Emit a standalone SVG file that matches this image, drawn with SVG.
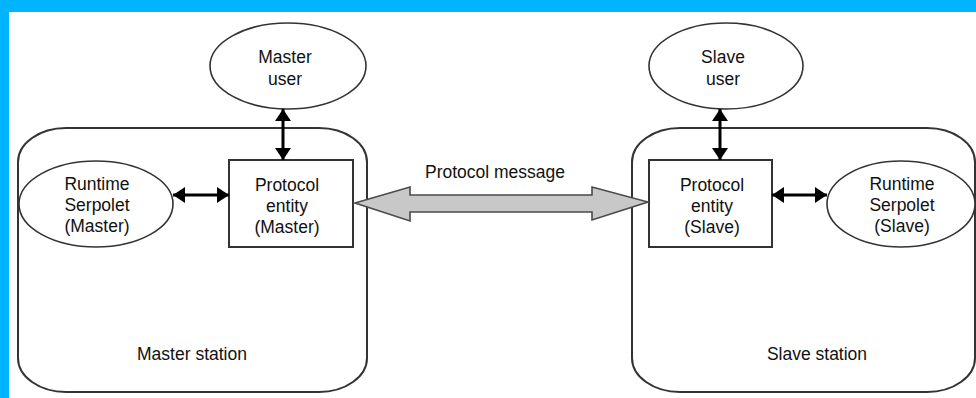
<svg xmlns="http://www.w3.org/2000/svg" width="976" height="398" viewBox="0 0 976 398">
<defs>
<style>
.bg{fill:#00b4ff}
.station{fill:none;stroke:#333;stroke-width:2}
.ell{fill:#fff;stroke:#333;stroke-width:1.6}
.box{fill:#fff;stroke:#333;stroke-width:2}
.t{font-family:"Liberation Sans",Arial,sans-serif;font-size:17.5px;fill:#111;text-anchor:middle}
.link{stroke:#000;stroke-width:3;fill:none;marker-start:url(#ah);marker-end:url(#ah)}
.big{fill:#c8c8c8;stroke:#4a4a4a;stroke-width:1.6;stroke-linejoin:miter}
</style>
<marker id="ah" viewBox="0 0 12 16" refX="12" refY="8" markerWidth="12" markerHeight="16" markerUnits="userSpaceOnUse" orient="auto-start-reverse">
<path d="M0,0 L12,8 L0,16 z" fill="#000"/>
</marker>
</defs>
<rect x="0" y="0" width="976" height="398" fill="#fff"/>
<rect class="bg" x="0" y="0" width="976" height="12"/>
<rect class="bg" x="0" y="0" width="9" height="398"/>

<g id="master-station">
<rect class="station" x="18" y="128" width="349" height="264" rx="48" ry="34"/>
<text class="t" x="192" y="360">Master station</text>
</g>
<g id="slave-station">
<rect class="station" x="632" y="128" width="343" height="264" rx="48" ry="34"/>
<text class="t" x="817" y="360">Slave station</text>
</g>

<g id="master-user">
<ellipse class="ell" cx="288" cy="66" rx="78" ry="43"/>
<text class="t" x="285" y="63">Master</text>
<text class="t" x="285" y="85">user</text>
</g>
<g id="slave-user">
<ellipse class="ell" cx="726" cy="66" rx="77" ry="43"/>
<text class="t" x="723" y="63">Slave</text>
<text class="t" x="723" y="85">user</text>
</g>

<g id="protocol-master">
<rect class="box" x="229" y="160" width="124" height="87"/>
<text class="t" x="287" y="191">Protocol</text>
<text class="t" x="287" y="212">entity</text>
<text class="t" x="287" y="233">(Master)</text>
</g>
<g id="protocol-slave">
<rect class="box" x="649" y="160" width="123" height="87"/>
<text class="t" x="712" y="191">Protocol</text>
<text class="t" x="712" y="212">entity</text>
<text class="t" x="712" y="233">(Slave)</text>
</g>

<g id="runtime-master">
<ellipse class="ell" cx="96" cy="204" rx="77" ry="43"/>
<text class="t" x="97" y="190">Runtime</text>
<text class="t" x="97" y="211">Serpolet</text>
<text class="t" x="97" y="232">(Master)</text>
</g>
<g id="runtime-slave">
<ellipse class="ell" cx="901" cy="204" rx="74" ry="43"/>
<text class="t" x="902" y="190">Runtime</text>
<text class="t" x="902" y="211">Serpolet</text>
<text class="t" x="902" y="232">(Slave)</text>
</g>

<g id="connectors">
<line class="link" x1="283" y1="109" x2="283" y2="160"/>
<line class="link" x1="720" y1="109" x2="720" y2="160"/>
<line class="link" x1="173" y1="195" x2="229" y2="195"/>
<line class="link" x1="772" y1="195" x2="827" y2="195"/>
<polygon class="big" points="355,203 410,187 410,195 592,195 592,187 648,202 592,220 592,212 410,212 410,221"/>
<text class="t" x="495" y="178">Protocol message</text>
</g>
</svg>
